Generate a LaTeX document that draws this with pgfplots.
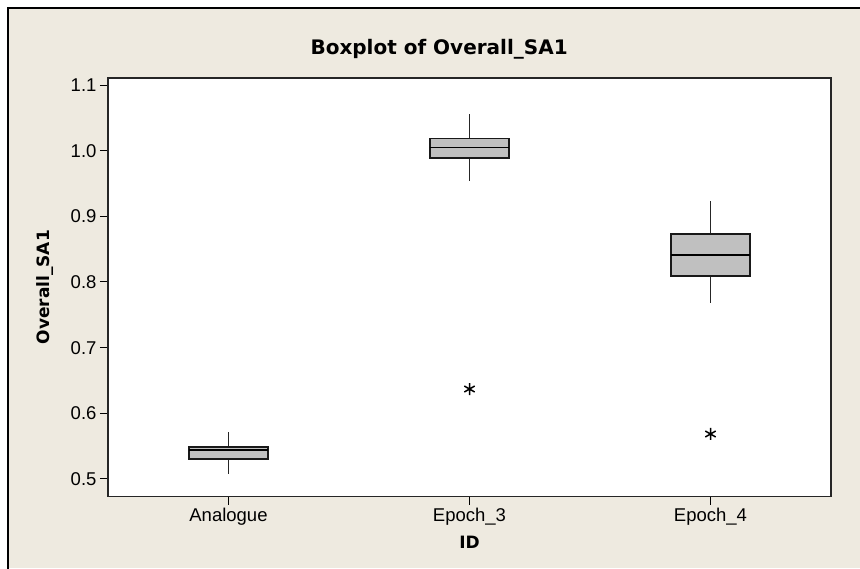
\documentclass[border=0pt]{standalone}
\usepackage{pgfplots}
\pgfplotsset{compat=1.18}
\usepgfplotslibrary{statistics}
\usepackage{fontspec}
\setmainfont{Liberation Sans}
\newfontfamily\titlefont{DejaVu Sans}
\definecolor{bgbeige}{RGB}{238,234,224}
\definecolor{boxgray}{RGB}{192,192,192}
\begin{document}
\begin{tikzpicture}
\useasboundingbox (-108pt,-71.5pt) rectangle (752pt,496.5pt);
\fill[white] (-108pt,-71.5pt) rectangle (752pt,496.5pt);
\fill[bgbeige] (-100pt,-71.5pt) rectangle (752pt,488.5pt);
\draw[line width=1.3pt] (-100pt,-72pt) -- (-100pt,488.5pt) -- (753pt,488.5pt);
\begin{axis}[
  at={(0pt,0pt)}, anchor=south west,
  width=723pt, height=418.5pt, scale only axis,
  xmin=-0.5, xmax=2.5, ymin=0.4733, ymax=1.1107,
  xtick={0,1,2}, xticklabels={Analogue,Epoch\_3,Epoch\_4},
  ytick={0.5,0.6,0.7,0.8,0.9,1.0,1.1},
  /pgf/number format/assume math mode=true,
  yticklabel style={/pgf/number format/.cd, fixed, fixed zerofill, precision=1, /tikz/.cd},
  tick label style={font=\fontsize{18.5}{22}\selectfont},
  axis background/.style={fill=white},
  axis line style={line width=1.3pt, black!85},
  tick style={line width=1pt, black},
  tick align=outside, major tick length=8pt, tick pos=left,
  title={\titlefont\bfseries Boxplot of Overall\_SA1},
  title style={at={(axis description cs:0.458,1.055)}, anchor=center, font=\fontsize{20}{24}\selectfont},
  ylabel={\titlefont\bfseries Overall\_SA1},
  ylabel style={at={(axis description cs:-0.0871,0.5)}, anchor=center, font=\fontsize{17}{20}\selectfont},
  xlabel={\titlefont\bfseries ID},
  xlabel style={at={(axis description cs:0.5,-0.1087)}, anchor=center, font=\fontsize{17}{20}\selectfont},
  boxplot/draw direction=y,
  boxplot/box extend=0.33,
  boxplot/whisker extend=0,
  boxplot/every box/.style={draw=black!90, fill=boxgray, line width=1.6pt},
  boxplot/every median/.style={draw=black, line width=1.4pt},
  boxplot/every whisker/.style={draw=black!85, line width=1.5pt},
]
\addplot[boxplot prepared={draw position=0, lower whisker=0.5076, lower quartile=0.5305, median=0.5442, upper quartile=0.5487, upper whisker=0.5716}, draw=black, line width=1.5pt, mark=asterisk, mark size=6pt, mark options={draw=black, line width=1.5pt}] coordinates {};
\addplot[boxplot prepared={draw position=1, lower whisker=0.9538, lower quartile=0.9893, median=1.0051, upper quartile=1.0188, upper whisker=1.0558}, draw=black, line width=1.5pt, mark=asterisk, mark size=6pt, mark options={draw=black, line width=1.5pt}] table[row sep=\\, y index=0] {0.637\\};
\addplot[boxplot prepared={draw position=2, lower whisker=0.768, lower quartile=0.809, median=0.8411, upper quartile=0.8731, upper whisker=0.9238}, draw=black, line width=1.5pt, mark=asterisk, mark size=6pt, mark options={draw=black, line width=1.5pt}] table[row sep=\\, y index=0] {0.5685\\};
\end{axis}
\end{tikzpicture}
\end{document}
